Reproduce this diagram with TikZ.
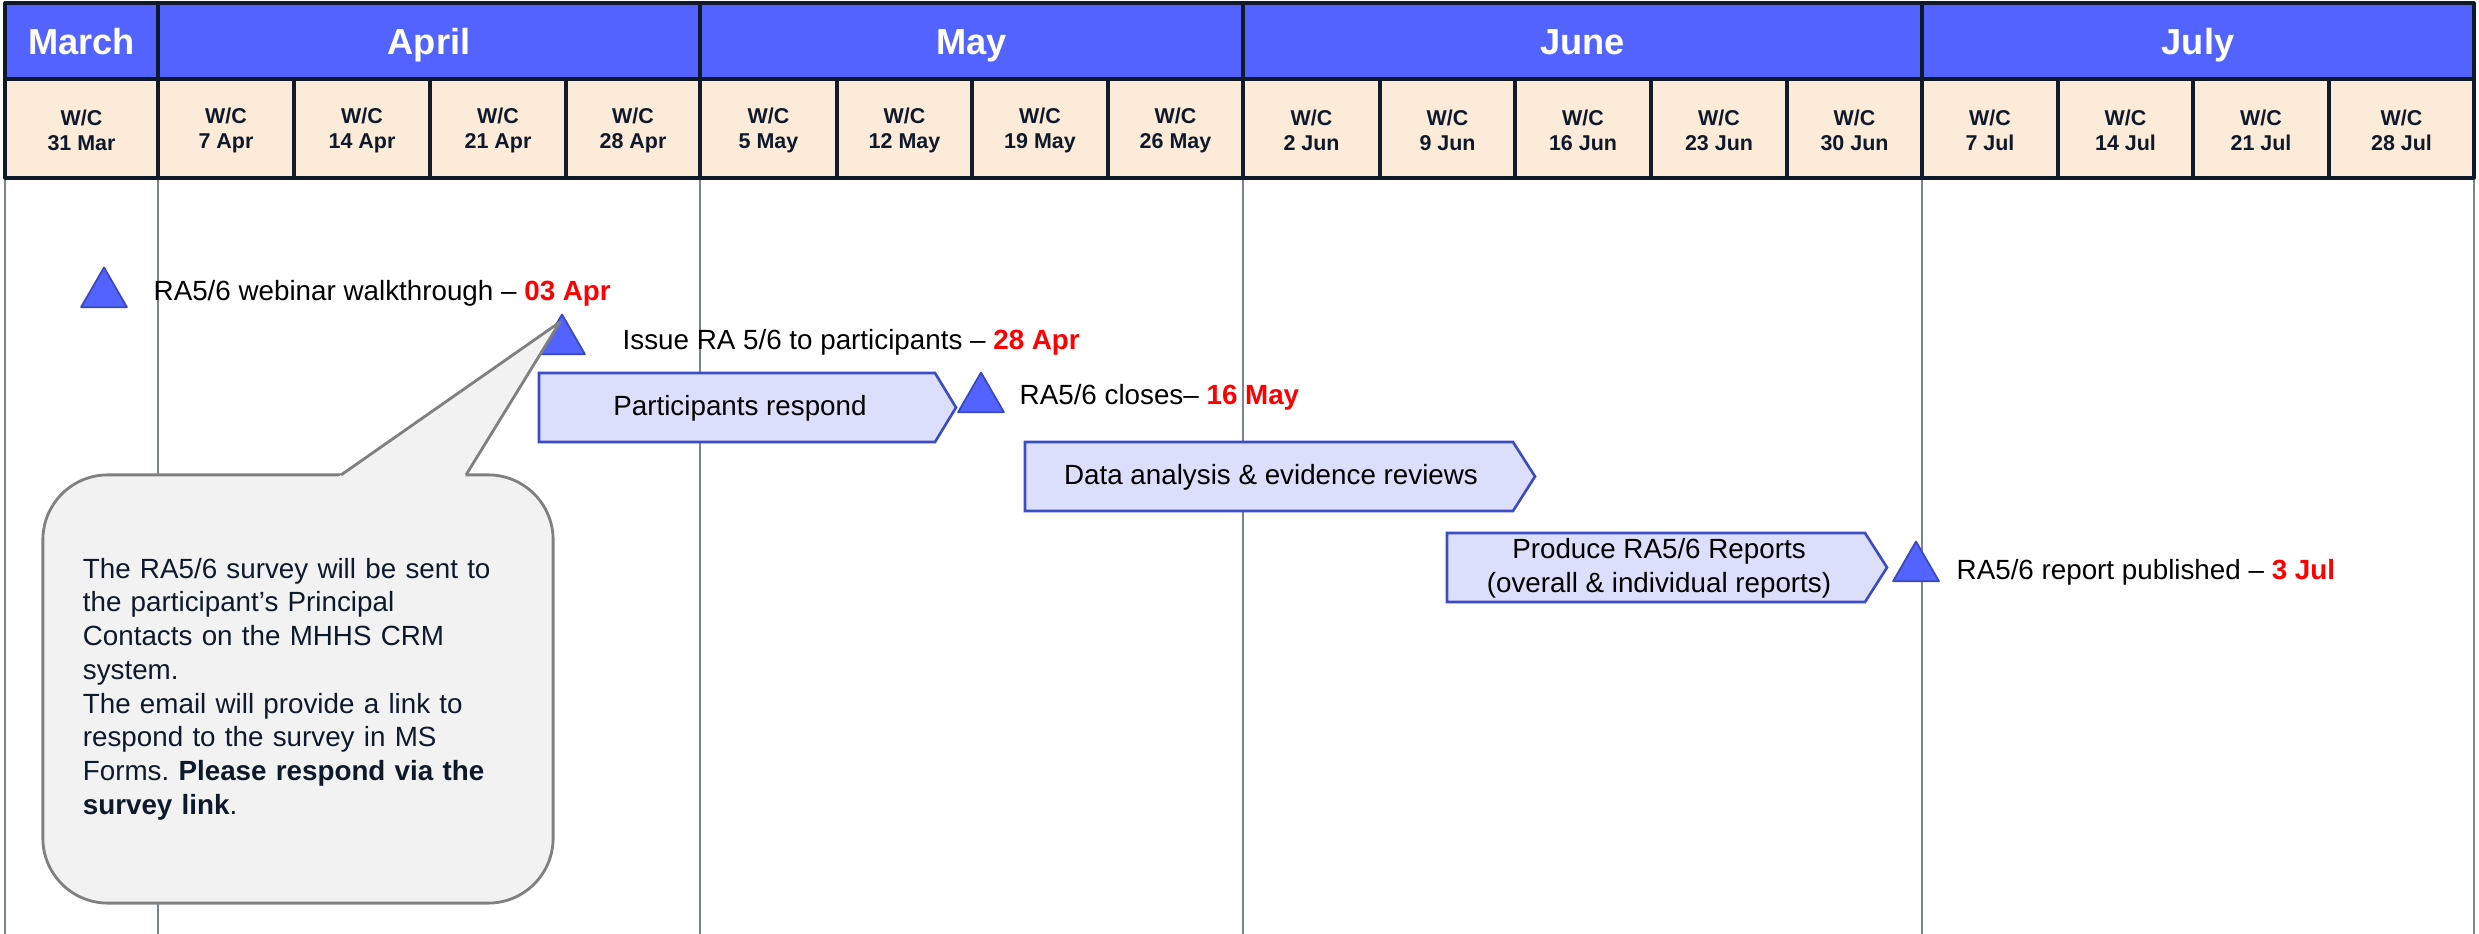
\documentclass[tikz,border=0pt]{standalone}
\usepackage{fontspec}
\setmainfont{Liberation Sans}
\usepackage{xcolor}
\usepackage{tikz}
\usetikzlibrary{positioning,shapes.geometric}
\frenchspacing

\definecolor{hdrblue}{RGB}{83,99,255}
\definecolor{weekfill}{RGB}{253,235,218}
\definecolor{hdrline}{RGB}{16,26,42}
\definecolor{gridgray}{RGB}{122,131,150}
\definecolor{phasefill}{RGB}{220,223,251}
\definecolor{phaseline}{RGB}{59,76,196}
\definecolor{tribord}{RGB}{58,72,190}
\definecolor{notefill}{RGB}{242,242,242}
\definecolor{noteline}{RGB}{128,128,128}
\definecolor{navytext}{RGB}{14,26,43}
\definecolor{datered}{RGB}{255,0,0}

\newcommand{\redday}[1]{\textbf{\color{datered}#1}}

\begin{document}
\begin{tikzpicture}[x=0.01cm, y=-0.01cm, line join=round,
    monthcell/.style={fill=hdrblue, draw=hdrline, line width=0.9pt},
    weekcell/.style={fill=weekfill, draw=hdrline, line width=0.9pt},
    monthtext/.style={text=white, font=\bfseries\fontsize{10.3}{12}\selectfont, inner sep=0pt, anchor=base},
    weektext/.style={text=navytext, font=\bfseries\fontsize{6.1}{7.1}\selectfont, align=center, inner sep=0pt},
    gridline/.style={draw=gridgray, line width=0.35pt},
    milestone/.style={regular polygon, regular polygon sides=3, minimum size=5.3mm, inner sep=0pt, fill=hdrblue, draw=tribord, line width=0.5pt},
    eventlabel/.style={anchor=base west, inner sep=0pt, font=\fontsize{7.9}{9.5}\selectfont},
    phase/.style={fill=phasefill, draw=phaseline, line width=0.75pt, line join=miter},
    phasetext/.style={align=center, inner sep=0pt, font=\fontsize{7.9}{9.7}\selectfont},
    note/.style={fill=notefill, draw=noteline, line width=0.8pt, rounded corners=0.65cm, minimum width=5.1cm, minimum height=4.28cm, text width=4.3cm, align=left, inner sep=0pt, text=navytext, font=\fontsize{7.9}{9.6}\selectfont}]

    % Canvas
    \fill[white] (0,0) rectangle (2479,934);
    \useasboundingbox (0,0) rectangle (2479,934);

    % Draw month separators
    \foreach \x in {5,158,700,1243,1922,2474}
        \draw[gridline] (\x,178) -- (\x,934);

    % Draw month row
    \foreach \xa/\xb/\mon [count=\i] in {5/158/March, 158/700/April, 700/1243/May, 1243/1922/June, 1922/2474/July} {
        \draw[monthcell] (\xa,3) rectangle (\xb,79);
        \node[monthtext] (mon\i) at ({(\xa+\xb)/2},55) {\mon};
    }

    % Draw week row
    \foreach \xa/\xb/\wk [count=\i] in {5/158/31 Mar, 158/294/7 Apr, 294/430/14 Apr, 430/566/21 Apr, 566/700/28 Apr,
            700/837/5 May, 837/972/12 May, 972/1108/19 May, 1108/1243/26 May,
            1243/1380/2 Jun, 1380/1515/9 Jun, 1515/1651/16 Jun, 1651/1787/23 Jun, 1787/1922/30 Jun,
            1922/2058/7 Jul, 2058/2193/14 Jul, 2193/2329/21 Jul, 2329/2474/28 Jul} {
        \draw[weekcell] (\xa,79) rectangle (\xb,178);
        \node[weektext] (wk\i) at ({(\xa+\xb)/2},130) {W/C\\\wk};
    }

    % Phases
    \draw[phase] (539,373) -- (935,373) -- (956,407.5) -- (935,442) -- (539,442) -- cycle;
    \node[phasetext] (respond) at (740,408) {Participants respond};
    \draw[phase] (1025,442) -- (1513,442) -- (1535,476.5) -- (1513,511) -- (1025,511) -- cycle;
    \node[phasetext] (analysis) at (1271,477) {Data analysis \& evidence reviews};
    \draw[phase] (1447,533) -- (1865,533) -- (1887,567.5) -- (1865,602) -- (1447,602) -- cycle;
    \node[phasetext] (reports) at (1659,568) {Produce RA5/6 Reports\\(overall \& individual reports)};

    % Milestones
    \node[milestone] (webinar) at (104,294) {};
    \node[milestone] (issue) at (562,341) {};
    \node[milestone] (closes) at (981,399) {};
    \node[milestone] (publish) at (1916,568) {};

    \node[eventlabel] (webinarlbl) at (153,301) {RA5/6 webinar walkthrough \textendash{} \redday{03 Apr}};
    \node[eventlabel] (issuelbl) at (622,350) {Issue RA 5/6 to participants \textendash{} \redday{28 Apr}};
    \node[eventlabel] (closeslbl) at (1019,405) {RA5/6 closes\textendash{} \redday{16 May}};
    \node[eventlabel] (publishlbl) at (1956,580) {RA5/6 report published \textendash{} \redday{3 Jul}};

    % Callout
    \coordinate (tip) at (560,322);
    \node[note] (survey) at (298,689) {The RA5/6 survey will be sent to\\
        the participant’s Principal\\
        Contacts on the MHHS CRM\\
        system.\\
        The email will provide a link to\\
        respond to the survey in MS\\
        Forms. \textbf{Please respond via the}\\
        \textbf{survey link}.};
    \fill[notefill] (337.4,477.5) -- (tip) -- (464.5,477.5) -- cycle;
    \draw[noteline, line width=0.8pt] (341,475) -- (tip) -- (466,475);
\end{tikzpicture}
\end{document}
